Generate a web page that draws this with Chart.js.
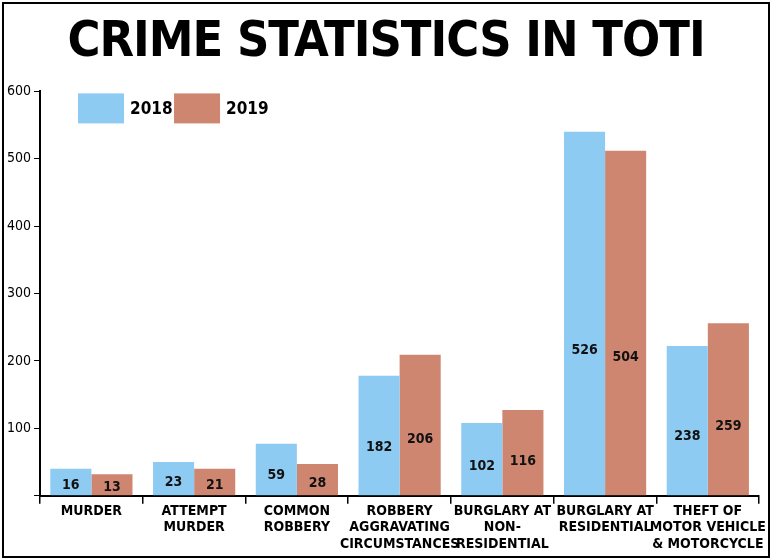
<!DOCTYPE html>
<html><head><meta charset="utf-8">
<script src="https://cdn.jsdelivr.net/npm/chart.js@4"></script>
<style>
  html,body{margin:0;padding:0;background:#fff;}
  #frame{position:absolute;left:2px;top:2px;width:764px;height:552px;border:2px solid #000;}
  #title{position:absolute;left:0;top:10px;width:772px;text-align:center;font-family:"DejaVu Sans Condensed","DejaVu Sans";font-weight:bold;font-size:50px;letter-spacing:-1px;color:#000;}
  #wrap{position:absolute;left:4px;top:80px;width:762px;height:472px;}
</style></head>
<body>
<div id="frame"></div>
<div id="title">CRIME STATISTICS IN TOTI</div>
<div id="wrap"><canvas id="c"></canvas></div>
<script>
const categorias = [['MURDER'], ['ATTEMPT', 'MURDER'], ['COMMON', 'ROBBERY'], ['ROBBERY', 'AGGRAVATING', 'CIRCUMSTANCES'],
  ['BURGLARY AT', 'NON-', 'RESIDENTIAL'], ['BURGLARY AT', 'RESIDENTIAL'], ['THEFT OF', 'MOTOR VEHICLE', '& MOTORCYCLE']];
// heights of the bars as drawn
const alturas2018 = [40, 50, 77, 178, 108, 540, 222];
const alturas2019 = [32, 40, 47, 209, 127, 512, 256];
// numbers printed on the bars
const etiquetas2018 = [16, 23, 59, 182, 102, 526, 238];
const etiquetas2019 = [13, 21, 28, 206, 116, 504, 259];
const ticksY = [0, 100, 200, 300, 400, 500, 600];

const fuente = '"DejaVu Sans Condensed", "DejaVu Sans", sans-serif';

const etiquetasBarra = {
  id: 'etiquetasBarra',
  afterDatasetsDraw(chart) {
    const ctx = chart.ctx;
    ctx.save();
    ctx.font = 'bold 14px ' + fuente;
    ctx.fillStyle = '#111';
    ctx.textAlign = 'center';
    ctx.textBaseline = 'middle';
    const listas = [etiquetas2018, etiquetas2019];
    const alturas = [alturas2018, alturas2019];
    chart.data.datasets.forEach((ds, d) => {
      chart.getDatasetMeta(d).data.forEach((bar, i) => {
        const y = chart.scales.y.getPixelForValue(alturas[d][i] * 0.4);
        ctx.fillText(listas[d][i], bar.x, y);
      });
    });
    // legend, drawn in one row inside the plot
    const a = chart.chartArea;
    let x = a.left + 38;
    const y0 = a.top + 2;
    ctx.font = 'bold 17px ' + fuente;
    ctx.textAlign = 'left';
    chart.data.datasets.forEach(ds => {
      ctx.fillStyle = ds.backgroundColor;
      ctx.fillRect(x, y0, 46, 30);
      ctx.fillStyle = '#000';
      ctx.fillText(ds.label, x + 52, y0 + 16);
      x += 96;
    });
    ctx.restore();
  }
};

new Chart(document.getElementById('c'), {
  type: 'bar',
  data: {
    labels: categorias,
    datasets: [
      { label: '2018', data: alturas2018, backgroundColor: '#8DCBF2' },
      { label: '2019', data: alturas2019, backgroundColor: '#CF8670' }
    ]
  },
  options: {
    responsive: true, maintainAspectRatio: false, animation: false,
    layout: { padding: { left: 0, right: 2, top: 4, bottom: 0 } },
    datasets: { bar: { barPercentage: 1, categoryPercentage: 0.8 } },
    scales: {
      x: {
        grid: { offset: true, drawOnChartArea: false, tickLength: 8, color: '#000', lineWidth: 1.5 },
        border: { color: '#000', width: 2 },
        ticks: { color: '#000', font: { family: fuente, weight: 'bold', size: 14, lineHeight: 1.15 }, maxRotation: 0, autoSkip: false, padding: 0 }
      },
      y: {
        min: 0, max: 600,
        afterBuildTicks: ax => { ax.ticks = ticksY.map(v => ({ value: v })); },
        grid: { drawOnChartArea: false, tickLength: 6, color: '#000' },
        border: { color: '#000', width: 2 },
        ticks: { color: '#000', font: { family: fuente, size: 14 }, callback: v => v === 0 ? '' : v }
      }
    },
    plugins: { legend: { display: false }, tooltip: { enabled: false } }
  },
  plugins: [etiquetasBarra]
});
</script>
</body></html>
